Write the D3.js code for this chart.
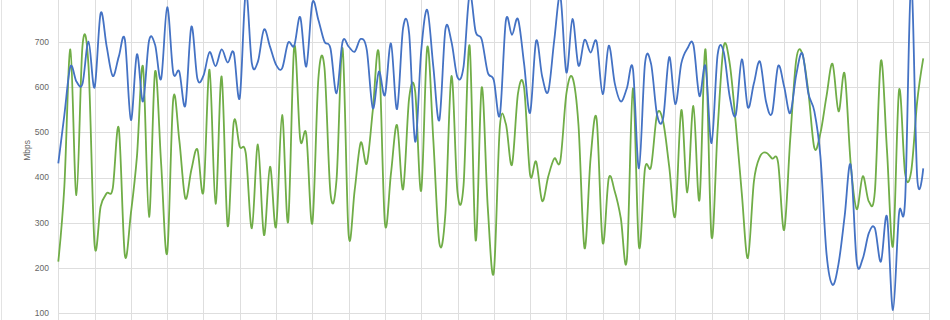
<!DOCTYPE html>
<html>
<head>
<meta charset="utf-8">
<script src="https://cdn.jsdelivr.net/npm/d3@7"></script>
<style>
  body { margin: 0; background: #fff; }
  svg { display: block; }
</style>
</head>
<body>
<div id="chart"></div>
<script>
// 10-minute samples over 24 hours (144 points), Mbps
const blueSeries = [
  431, 538, 645, 612, 607, 700, 599, 763, 689, 624, 667, 705,
  527, 672, 568, 702, 693, 618, 776, 632, 634, 559, 733, 618,
  625, 677, 646, 683, 654, 676, 576, 810, 652, 656, 727, 689,
  649, 641, 698, 691, 754, 645, 786, 748, 700, 685, 586, 700,
  689, 678, 706, 682, 553, 634, 582, 696, 551, 730, 719, 479,
  680, 770, 645, 527, 727, 700, 621, 645, 805, 722, 705, 632,
  615, 538, 747, 715, 750, 652, 543, 702, 623, 590, 704, 800,
  632, 750, 647, 704, 676, 700, 584, 691, 608, 568, 597, 640,
  420, 652, 651, 538, 531, 666, 562, 652, 685, 693, 580, 646,
  476, 671, 678, 579, 538, 661, 555, 608, 656, 568, 542, 646,
  601, 542, 627, 674, 586, 546, 446, 233, 163, 210, 314, 428,
  214, 221, 277, 288, 214, 314, 107, 321, 350, 830, 400, 420
];
const greenSeries = [
  214, 380, 683, 361, 691, 645, 251, 336, 365, 376, 509, 229,
  321, 446, 645, 313, 634, 431, 233, 573, 483, 354, 417, 462,
  369, 638, 342, 623, 293, 522, 468, 453, 288, 473, 273, 424,
  291, 538, 302, 689, 484, 495, 299, 619, 643, 365, 395, 685,
  273, 372, 477, 431, 549, 673, 299, 409, 516, 374, 575, 590,
  371, 688, 483, 255, 321, 624, 367, 383, 691, 261, 599, 335,
  190, 512, 518, 428, 586, 599, 406, 435, 348, 402, 442, 437,
  585, 621, 516, 244, 442, 529, 256, 398, 369, 310, 219, 597,
  247, 420, 424, 540, 523, 424, 315, 549, 367, 558, 350, 683,
  269, 505, 689, 652, 520, 365, 222, 391, 446, 455, 442, 433,
  284, 483, 660, 674, 590, 465, 498, 579, 651, 546, 629, 431,
  330, 403, 347, 369, 658, 461, 249, 593, 409, 413, 568, 663
];
const gridValues = [0, 100, 200, 300, 400, 500, 600, 700, 800];
const yTickLabels = [100, 200, 300, 400, 500, 600, 700];
const hourTicks = d3.range(0, 145, 6);

const width = 950;
const height = 320;

const x = d3.scaleLinear().domain([0, 144]).range([58.3, 929.3]);
const y = d3.scaleLinear().domain([0, 800]).range([358.6, -3.6]);

const svg = d3
  .select("#chart")
  .append("svg")
  .attr("width", width)
  .attr("height", height);

// outer chart border (left edge only visible)
svg
  .append("line")
  .attr("x1", 1.5)
  .attr("x2", 1.5)
  .attr("y1", 0)
  .attr("y2", height)
  .attr("stroke", "#e3e3e3");

// horizontal gridlines
svg
  .append("g")
  .selectAll("line")
  .data(gridValues)
  .enter()
  .append("line")
  .attr("x1", x(0))
  .attr("x2", x(144))
  .attr("y1", (d) => Math.round(y(d)) + 0.5)
  .attr("y2", (d) => Math.round(y(d)) + 0.5)
  .attr("stroke", "#dedede")
  .attr("stroke-width", 1);

// vertical gridlines (hourly)
svg
  .append("g")
  .selectAll("line")
  .data(hourTicks)
  .enter()
  .append("line")
  .attr("x1", (d) => Math.round(x(d)) + 0.5)
  .attr("x2", (d) => Math.round(x(d)) + 0.5)
  .attr("y1", y(800))
  .attr("y2", height)
  .attr("stroke", "#dedede")
  .attr("stroke-width", 1);

// y tick labels
svg
  .append("g")
  .selectAll("text")
  .data(yTickLabels)
  .enter()
  .append("text")
  .attr("x", 49)
  .attr("y", (d) => y(d))
  .attr("dy", "0.35em")
  .attr("text-anchor", "end")
  .attr("font-family", "Liberation Sans, Arial, sans-serif")
  .attr("font-size", 8.5)
  .attr("fill", "#666")
  .text((d) => d);

svg
  .append("text")
  .attr("transform", "translate(30," + y(460) + ") rotate(-90)")
  .attr("text-anchor", "middle")
  .attr("font-family", "Liberation Sans, Arial, sans-serif")
  .attr("font-size", 8.5)
  .attr("fill", "#666")
  .text("Mbps");

const line = d3
  .line()
  .x((d, i) => x(i))
  .y((d) => y(d))
  .curve(d3.curveCardinal.tension(0));

svg
  .append("path")
  .datum(greenSeries)
  .attr("d", line)
  .attr("fill", "none")
  .attr("stroke", "#70AD47")
  .attr("stroke-width", 1.8)
  .attr("stroke-linejoin", "round");

svg
  .append("path")
  .datum(blueSeries)
  .attr("d", line)
  .attr("fill", "none")
  .attr("stroke", "#4472C4")
  .attr("stroke-width", 1.8)
  .attr("stroke-linejoin", "round");
</script>
</body>
</html>
